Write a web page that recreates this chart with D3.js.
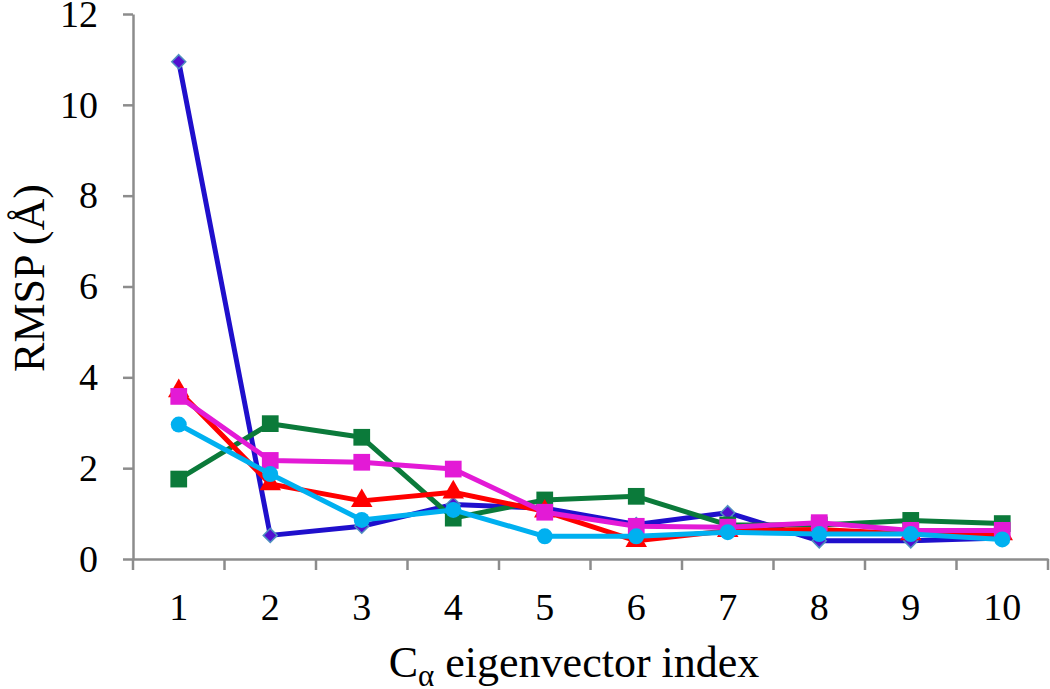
<!DOCTYPE html>
<meta charset="utf-8">
<script src="https://d3js.org/d3.v7.min.js"></script>
<style>
  body { margin: 0; background: #fff; }
  text { font-family: "Liberation Serif", "Times New Roman", serif; fill: #000; }
</style>
<div id="chart"></div>
<script>
// eigenvector index categories
const indices = [1, 2, 3, 4, 5, 6, 7, 8, 9, 10];
const yTicks = [0, 2, 4, 6, 8, 10, 12];

// RMSP values per series
const blueVals    = [10.95, 0.52, 0.72, 1.2, 1.12, 0.76, 1.02, 0.4, 0.4, 0.46];
const greenVals   = [1.76, 2.98, 2.68, 0.9, 1.3, 1.38, 0.75, 0.75, 0.85, 0.78];
const redVals     = [3.7, 1.65, 1.28, 1.47, 1.05, 0.4, 0.62, 0.65, 0.55, 0.55];
const magentaVals = [3.58, 2.17, 2.13, 1.98, 1.03, 0.72, 0.7, 0.8, 0.63, 0.63];
const cyanVals    = [2.96, 1.87, 0.86, 1.08, 0.5, 0.5, 0.59, 0.55, 0.55, 0.43];

const series = [
  {name: "blue",    values: blueVals,    line: "#1f0fcc", fill: "#5310d0", stroke: "#4f8fc0", shape: "diamond"},
  {name: "green",   values: greenVals,   line: "#0b7a3a", fill: "#0b7a3a", stroke: "none",    shape: "square"},
  {name: "red",     values: redVals,     line: "#ff0000", fill: "#ff0000", stroke: "none",    shape: "triangle"},
  {name: "magenta", values: magentaVals, line: "#e31ad6", fill: "#e31ad6", stroke: "none",    shape: "square"},
  {name: "cyan",    values: cyanVals,    line: "#00b0f0", fill: "#00b0f0", stroke: "none",    shape: "circle"}
];

const W = 1050, H = 689;
const margin = {top: 14, right: 2, bottom: 130, left: 133};
const width = W - margin.left - margin.right,
      height = H - margin.top - margin.bottom;

const svg = d3.select("#chart").append("svg")
    .attr("width", W).attr("height", H);
const g = svg.append("g")
    .attr("transform", `translate(${margin.left},${margin.top})`);

const x = d3.scaleBand().domain(indices).range([0, width]);
const y = d3.scaleLinear().domain([0, 12]).range([height, 0]);

const axisColor = "#8c8c8c";

// y axis
const yAxis = g.append("g")
    .call(d3.axisLeft(y).tickValues(yTicks).tickSize(10).tickPadding(25).tickSizeOuter(0));
yAxis.select(".domain").attr("stroke", axisColor).attr("stroke-width", 2.5);
yAxis.selectAll(".tick line").attr("stroke", axisColor).attr("stroke-width", 2.5);
yAxis.selectAll(".tick text").style("font-size", "38px").attr("font-family", null);

// x axis: ticks at category boundaries
const xAxis = g.append("g").attr("transform", `translate(0,${height})`)
    .call(d3.axisBottom(x).tickSize(0).tickPadding(34));
xAxis.select(".domain").attr("stroke", axisColor).attr("stroke-width", 2.5);
xAxis.selectAll(".tick text").style("font-size", "38px").attr("font-family", null)
    .attr("dy", "0.71em");
xAxis.selectAll(".bnd").data(indices.concat([null]))
  .join("line")
    .attr("x1", (d, i) => i * x.step()).attr("x2", (d, i) => i * x.step())
    .attr("y1", 0).attr("y2", 11)
    .attr("stroke", axisColor).attr("stroke-width", 2.5);

// lines and markers
const line = d3.line()
    .x((d, i) => x(indices[i]) + x.bandwidth() / 2)
    .y(d => y(d));

const shapes = {
  diamond: d3.symbol().type(d3.symbolDiamond2).size(125),
  square: d3.symbol().type(d3.symbolSquare).size(280),
  triangle: d3.symbol().type(d3.symbolTriangle).size(200),
  circle: d3.symbol().type(d3.symbolCircle).size(200)
};

series.forEach(s => {
  const sg = g.append("g");
  sg.append("path")
    .datum(s.values)
    .attr("d", line)
    .attr("fill", "none")
    .attr("stroke", s.line)
    .attr("stroke-width", 5)
    .attr("stroke-linejoin", "round");
  sg.selectAll("path.mk").data(s.values)
    .join("path")
    .attr("class", "mk")
    .attr("d", shapes[s.shape])
    .attr("transform", (d, i) => `translate(${x(indices[i]) + x.bandwidth() / 2},${y(d)})`)
    .attr("fill", s.fill)
    .attr("stroke", s.stroke)
    .attr("stroke-width", 1.5);
});

// axis titles
svg.append("text")
    .attr("transform", `translate(44,278) rotate(-90)`)
    .attr("text-anchor", "middle")
    .style("font-size", "44px")
    .text("RMSP (Å)");

const xt = svg.append("text")
    .attr("x", 574)
    .attr("y", 677)
    .attr("text-anchor", "middle")
    .style("font-size", "44px");
xt.append("tspan").text("C");
xt.append("tspan").attr("dy", 9).style("font-size", "31px").text("α");
xt.append("tspan").attr("dy", -9).text(" eigenvector index");
</script>
